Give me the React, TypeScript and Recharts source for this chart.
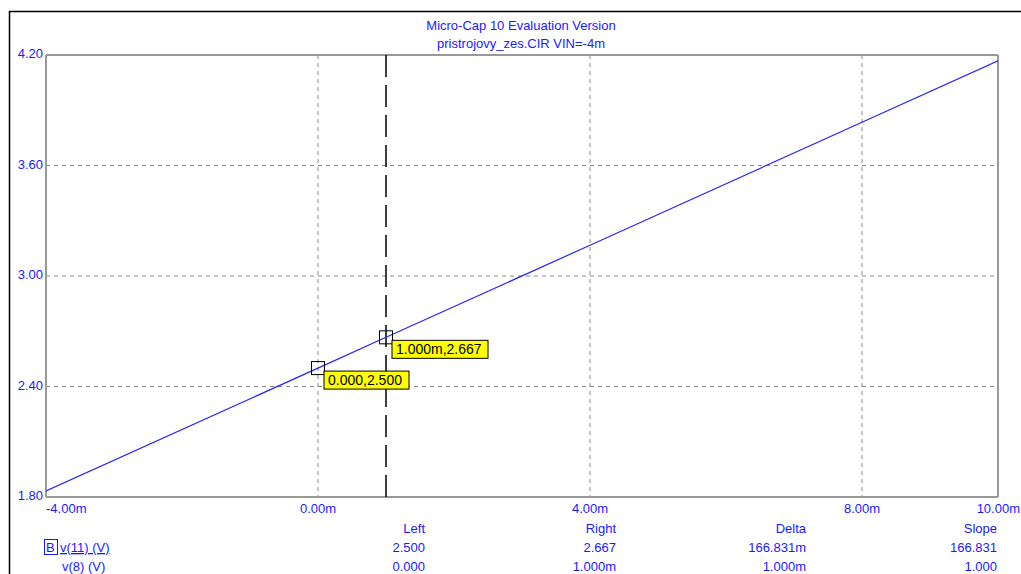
import React from "react";
import {
  LineChart,
  Line,
  XAxis,
  YAxis,
  CartesianGrid,
  ReferenceLine,
  ReferenceDot,
} from "recharts";

const vin = [-4, 0, 1, 4, 8, 10];
const v11 = [1.833, 2.5, 2.667, 3.167, 3.835, 4.168];
const xTicks = [-4, 0, 4, 8, 10];
const yTicks = [1.8, 2.4, 3.0, 3.6, 4.2];
const xTickLabels = ["-4.00m", "0.00m", "4.00m", "8.00m", "10.00m"];
const yTickLabels = ["1.80", "2.40", "3.00", "3.60", "4.20"];
const cursorX = 1;
const markers = [
  { x: 0, y: 2.5, label: "0.000,2.500", w: 85 },
  { x: 1, y: 2.667, label: "1.000m,2.667", w: 96 },
];
const titleLines = ["Micro-Cap 10 Evaluation Version", "pristrojovy_zes.CIR VIN=-4m"];
const tableHeaders = ["Left", "Right", "Delta", "Slope"];
const rowV11 = ["2.500", "2.667", "166.831m", "166.831"];
const rowV8 = ["0.000", "1.000m", "1.000m", "1.000"];

const data = vin.map((v, i) => ({ vin: v, v11: v11[i] }));

const FONT = "'Liberation Sans', Arial, sans-serif";
const BLUE = "#1a1aff";

const XTick = (props: any) => {
  const { x, y, payload } = props;
  const idx = xTicks.indexOf(payload.value);
  const anchor = idx === 0 ? "start" : idx === xTicks.length - 1 ? "end" : "middle";
  const dx = idx === xTicks.length - 1 ? 22 : 0;
  return (
    <text x={x + dx} y={y + 16} textAnchor={anchor} fill={BLUE} fontSize={13} fontFamily={FONT}>
      {xTickLabels[idx]}
    </text>
  );
};

const YTick = (props: any) => {
  const { x, y, payload } = props;
  const idx = yTicks.findIndex((t) => Math.abs(t - payload.value) < 1e-9);
  return (
    <text x={x - 3} y={y + 3} textAnchor="end" fill={BLUE} fontSize={13} fontFamily={FONT}>
      {yTickLabels[idx]}
    </text>
  );
};

const markerShape = (m: { label: string; w: number }) => (props: any) => {
  const { cx, cy } = props;
  return (
    <g>
      <rect x={cx - 6.5} y={cy - 6.5} width={13} height={13} fill="none" stroke="#000" strokeWidth={1} />
      <rect x={cx + 6} y={cy + 3} width={m.w} height={18} fill="#ffff00" stroke="#000" strokeWidth={1} />
      <text x={cx + 10} y={cy + 17} fill="#000" fontSize={14} fontFamily={FONT}>
        {m.label}
      </text>
    </g>
  );
};

const colX = [425, 616, 806, 997];

export default function App() {
  return (
    <div style={{ position: "absolute", left: 0, top: 0, width: 1021, height: 574, background: "#fff" }}>
      <LineChart
        width={1021}
        height={574}
        data={data}
        margin={{ top: 55, right: 23, bottom: 76, left: 45 }}
      >
        <CartesianGrid stroke="#888" strokeDasharray="4 4" horizontalValues={yTicks} verticalValues={xTicks} />
        <XAxis
          dataKey="vin"
          type="number"
          domain={[-4, 10]}
          ticks={xTicks}
          tick={<XTick />}
          axisLine={false}
          tickLine={false}
          tickSize={0}
          tickMargin={0}
          height={1}
          interval={0}
          allowDataOverflow
        />
        <YAxis
          type="number"
          domain={[1.8, 4.2]}
          ticks={yTicks}
          tick={<YTick />}
          axisLine={false}
          tickLine={false}
          tickSize={0}
          tickMargin={0}
          width={1}
          interval={0}
          allowDataOverflow
        />
        <ReferenceLine x={-4} stroke="#999" strokeWidth={2} />
        <ReferenceLine x={10} stroke="#999" strokeWidth={2} />
        <ReferenceLine y={1.8} stroke="#999" strokeWidth={2} />
        <ReferenceLine y={4.2} stroke="#999" strokeWidth={2} />
        <ReferenceLine x={cursorX} stroke="#000" strokeWidth={1.5} strokeDasharray="22 8" />
        <Line
          type="linear"
          dataKey="v11"
          stroke="#2424ff"
          strokeWidth={1.2}
          dot={false}
          isAnimationActive={false}
        />
        {markers.map((m, i) => (
          <ReferenceDot key={i} x={m.x} y={m.y} r={6} shape={markerShape(m)} />
        ))}
      </LineChart>
      <svg
        width={1021}
        height={574}
        style={{ position: "absolute", left: 0, top: 0, pointerEvents: "none" }}
      >
        <line x1={9} y1={11.5} x2={1021} y2={11.5} stroke="#000" strokeWidth={1.5} />
        <line x1={9.5} y1={11} x2={9.5} y2={574} stroke="#000" strokeWidth={1.5} />
        <text x={521} y={30} textAnchor="middle" fill={BLUE} fontSize={13} fontFamily={FONT}>
          {titleLines[0]}
        </text>
        <text x={521} y={48} textAnchor="middle" fill={BLUE} fontSize={13} fontFamily={FONT}>
          {titleLines[1]}
        </text>
        {tableHeaders.map((h, i) => (
          <text key={"h" + i} x={colX[i]} y={533} textAnchor="end" fill={BLUE} fontSize={13} fontFamily={FONT}>
            {h}
          </text>
        ))}
        <rect x={44.5} y={539.5} width={13} height={15} fill="none" stroke={BLUE} strokeWidth={1} />
        <text x={46} y={552} fill={BLUE} fontSize={13} fontFamily={FONT}>B</text>
        <text x={60} y={552} fill={BLUE} fontSize={13} fontFamily={FONT} textDecoration="underline">
          v(11) (V)
        </text>
        {rowV11.map((v, i) => (
          <text key={"a" + i} x={colX[i]} y={552} textAnchor="end" fill={BLUE} fontSize={13} fontFamily={FONT}>
            {v}
          </text>
        ))}
        <text x={62} y={571} fill={BLUE} fontSize={13} fontFamily={FONT}>v(8) (V)</text>
        {rowV8.map((v, i) => (
          <text key={"b" + i} x={colX[i]} y={571} textAnchor="end" fill={BLUE} fontSize={13} fontFamily={FONT}>
            {v}
          </text>
        ))}
      </svg>
    </div>
  );
}
